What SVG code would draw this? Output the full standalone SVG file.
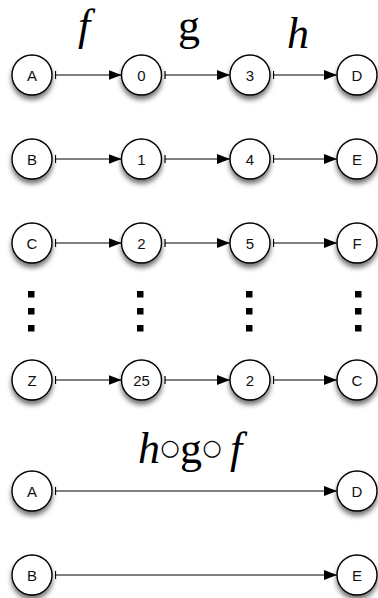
<svg xmlns="http://www.w3.org/2000/svg" width="378" height="598" viewBox="0 0 378 598">
  <style>
    .node circle { fill: #ffffff; stroke: #000000; stroke-width: 1.4; filter: url(#shadow); }
    .node text { font-family: "Liberation Sans", Arial, sans-serif; font-size: 15px; fill: #111111; text-anchor: middle; dominant-baseline: central; }
    .edge { stroke: #000000; stroke-width: 1; fill: none; marker-start: url(#bar); marker-end: url(#head); }
    .fn { font-family: "Liberation Serif", Tinos, "Noto Serif", FreeSerif, Times, "Times New Roman", serif; font-size: 44px; fill: #000000; text-anchor: middle; }
    .it { font-style: italic; }
    .ring { font-family: "DejaVu Sans", sans-serif; font-size: 22px; }
    .dot { fill: #000000; }
  </style>
  <defs>
    <filter id="shadow" x="-40%" y="-40%" width="180%" height="190%">
      <feDropShadow dx="0" dy="4" stdDeviation="2.5" flood-color="#000000" flood-opacity="0.55"/>
    </filter>
    <marker id="head" markerUnits="userSpaceOnUse" markerWidth="14" markerHeight="12" refX="13" refY="5" orient="auto">
      <path d="M0,0 L13,5 L0,10 z" fill="#000000"/>
    </marker>
    <marker id="bar" markerUnits="userSpaceOnUse" markerWidth="4" markerHeight="10" refX="1" refY="5" orient="auto">
      <line x1="1" y1="1" x2="1" y2="9" stroke="#000000" stroke-width="1.2"/>
    </marker>
  </defs>

  <!-- function labels -->
  <g id="labels">
    <text class="fn it" x="84" y="40">f</text>
    <text class="fn" x="189" y="40">g</text>
    <text class="fn it" x="298" y="48">h</text>
    <text class="fn" y="463"><tspan class="it" x="149">h</tspan><tspan class="ring" x="170" y="455">○</tspan><tspan x="191" y="463">g</tspan><tspan class="ring" x="212" y="455">○</tspan><tspan class="it" x="236" y="463">f</tspan></text>
  </g>

  <!-- connectors -->
  <g id="edges">
    <line class="edge" x1="55.5" y1="75" x2="121.5" y2="75"/>
    <line class="edge" x1="165" y1="75" x2="230" y2="75"/>
    <line class="edge" x1="273.5" y1="75" x2="337" y2="75"/>
    <line class="edge" x1="55.5" y1="159" x2="121.5" y2="159"/>
    <line class="edge" x1="165" y1="159" x2="230" y2="159"/>
    <line class="edge" x1="273.5" y1="159" x2="337" y2="159"/>
    <line class="edge" x1="55.5" y1="243" x2="121.5" y2="243"/>
    <line class="edge" x1="165" y1="243" x2="230" y2="243"/>
    <line class="edge" x1="273.5" y1="243" x2="337" y2="243"/>
    <line class="edge" x1="55.5" y1="380" x2="121.5" y2="380"/>
    <line class="edge" x1="165" y1="380" x2="230" y2="380"/>
    <line class="edge" x1="273.5" y1="380" x2="337" y2="380"/>
    <line class="edge" x1="55.5" y1="491" x2="337" y2="491"/>
    <line class="edge" x1="55.5" y1="575" x2="337" y2="575"/>
  </g>

  <!-- ellipsis dots -->
  <g id="ellipsis">
    <rect class="dot" x="28" y="291" width="6.5" height="6.5"/>
    <rect class="dot" x="28" y="308" width="6.5" height="6.5"/>
    <rect class="dot" x="28" y="325" width="6.5" height="6.5"/>
    <rect class="dot" x="137" y="291" width="6.5" height="6.5"/>
    <rect class="dot" x="137" y="308" width="6.5" height="6.5"/>
    <rect class="dot" x="137" y="325" width="6.5" height="6.5"/>
    <rect class="dot" x="246" y="291" width="6.5" height="6.5"/>
    <rect class="dot" x="246" y="308" width="6.5" height="6.5"/>
    <rect class="dot" x="246" y="325" width="6.5" height="6.5"/>
    <rect class="dot" x="355" y="291" width="6.5" height="6.5"/>
    <rect class="dot" x="355" y="308" width="6.5" height="6.5"/>
    <rect class="dot" x="355" y="325" width="6.5" height="6.5"/>
  </g>

  <!-- row 1 -->
  <g id="n-A1" class="node"><circle cx="32" cy="75" r="20"/><text x="32" y="75">A</text></g>
  <g id="n-0" class="node"><circle cx="141.5" cy="75" r="20"/><text x="141.5" y="75">0</text></g>
  <g id="n-3" class="node"><circle cx="250" cy="75" r="20"/><text x="250" y="75">3</text></g>
  <g id="n-D1" class="node"><circle cx="357" cy="75" r="20"/><text x="357" y="75">D</text></g>
  <!-- row 2 -->
  <g id="n-B1" class="node"><circle cx="32" cy="159" r="20"/><text x="32" y="159">B</text></g>
  <g id="n-1" class="node"><circle cx="141.5" cy="159" r="20"/><text x="141.5" y="159">1</text></g>
  <g id="n-4" class="node"><circle cx="250" cy="159" r="20"/><text x="250" y="159">4</text></g>
  <g id="n-E1" class="node"><circle cx="357" cy="159" r="20"/><text x="357" y="159">E</text></g>
  <!-- row 3 -->
  <g id="n-C1" class="node"><circle cx="32" cy="243" r="20"/><text x="32" y="243">C</text></g>
  <g id="n-2" class="node"><circle cx="141.5" cy="243" r="20"/><text x="141.5" y="243">2</text></g>
  <g id="n-5" class="node"><circle cx="250" cy="243" r="20"/><text x="250" y="243">5</text></g>
  <g id="n-F" class="node"><circle cx="357" cy="243" r="20"/><text x="357" y="243">F</text></g>
  <!-- row Z -->
  <g id="n-Z" class="node"><circle cx="32" cy="380" r="20"/><text x="32" y="380">Z</text></g>
  <g id="n-25" class="node"><circle cx="141.5" cy="380" r="20"/><text x="141.5" y="380">25</text></g>
  <g id="n-2b" class="node"><circle cx="250" cy="380" r="20"/><text x="250" y="380">2</text></g>
  <g id="n-C2" class="node"><circle cx="357" cy="380" r="20"/><text x="357" y="380">C</text></g>
  <!-- composite rows -->
  <g id="n-A2" class="node"><circle cx="32" cy="491" r="20"/><text x="32" y="491">A</text></g>
  <g id="n-D2" class="node"><circle cx="357" cy="491" r="20"/><text x="357" y="491">D</text></g>
  <g id="n-B2" class="node"><circle cx="32" cy="575" r="20"/><text x="32" y="575">B</text></g>
  <g id="n-E2" class="node"><circle cx="357" cy="575" r="20"/><text x="357" y="575">E</text></g>
</svg>
